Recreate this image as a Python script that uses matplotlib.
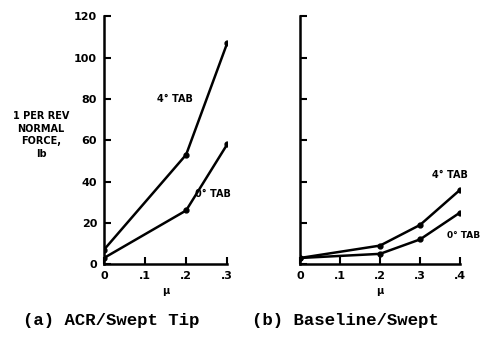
import numpy as np
import matplotlib.pyplot as plt

# 1P normal force vs advance ratio
mu_a = [0.0, 0.2, 0.3]
tab4_a = [7, 53, 107]
tab0_a = [3, 26, 58]

mu_b = [0.0, 0.2, 0.3, 0.4]
tab4_b = [3, 9, 19, 36]
tab0_b = [3, 5, 12, 25]

y_ticks = [0, 20, 40, 60, 80, 100, 120]
y_ticklabels = ['0', '20', '40', '60', '80', '100', '120']

plt.rcParams['font.family'] = ['DejaVu Sans']
plt.rcParams['font.weight'] = 'bold'

fig = plt.figure(figsize=(4.85, 3.4), dpi=100)
ax1 = fig.add_axes([0.2144, 0.223, 0.254, 0.729])
ax2 = fig.add_axes([0.6186, 0.223, 0.33, 0.729])

line_kw = dict(color='black', lw=1.8, marker='o', ms=3.5)

ax1.plot(mu_a, tab4_a, **line_kw)
ax1.plot(mu_a, tab0_a, **line_kw)
ax1.set_xlim(0, 0.3)
ax1.set_xticks([0, 0.1, 0.2, 0.3])
ax1.set_xticklabels(['0', '.1', '.2', '.3'])
ax1.set_yticks(y_ticks)
ax1.set_yticklabels(y_ticklabels)
ax1.text(0.13, 80, '4° TAB', fontsize=7, fontweight='bold', va='center')
ax1.text(0.222, 34, '0° TAB', fontsize=7, fontweight='bold', va='center')
ax1.xaxis.set_label_coords(0.35, -0.09)

ax2.plot(mu_b, tab4_b, **line_kw)
ax2.plot(mu_b, tab0_b, **line_kw)
ax2.set_xlim(0, 0.4)
ax2.set_xticks([0, 0.1, 0.2, 0.3, 0.4])
ax2.set_xticklabels(['0', '.1', '.2', '.3', '.4'])
ax2.set_yticks(y_ticks)
ax2.set_yticklabels([])
ax2.text(0.33, 43, '4° TAB', fontsize=7, fontweight='bold', va='center')
ax2.text(0.368, 14, '0° TAB', fontsize=6.5, fontweight='bold', va='center')
ax2.xaxis.set_label_coords(0.53, -0.09)

for ax in (ax1, ax2):
    ax.set_ylim(0, 120)
    ax.spines['top'].set_visible(False)
    ax.spines['right'].set_visible(False)
    ax.spines['left'].set_linewidth(1.8)
    ax.spines['bottom'].set_linewidth(1.8)
    ax.tick_params(direction='in', length=5, width=1.5, labelsize=8, pad=5)
    ax.set_xlabel('μ', fontsize=7, fontweight='bold')

fig.text(0.085, 0.603, '1 PER REV\nNORMAL\nFORCE,\nlb', ha='center', va='center',
         fontsize=7, fontweight='bold', linespacing=1.35)

fig.text(0.229, 0.058, '(a) ACR/Swept Tip', ha='center', va='center',
         family='Liberation Mono', fontsize=12.5)
fig.text(0.713, 0.058, '(b) Baseline/Swept', ha='center', va='center',
         family='Liberation Mono', fontsize=12.5)

fig.savefig('out.png', dpi=100)
